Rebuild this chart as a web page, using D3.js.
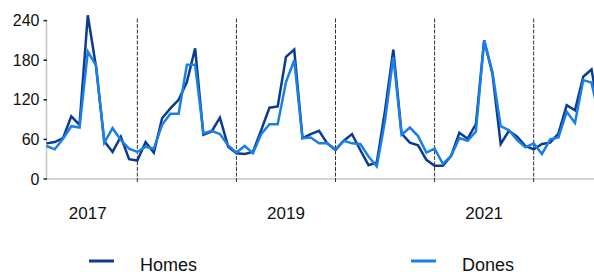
<!DOCTYPE html>
<html>
<head>
<meta charset="utf-8">
<script src="https://cdn.jsdelivr.net/npm/d3@7"></script>
<style>
  html, body { margin: 0; padding: 0; background: #fff; }
  svg { display: block; font-family: "Liberation Sans", Arial, sans-serif; }
</style>
</head>
<body>
<div id="chart"></div>
<script>
// monthly values
const homes = [54, 56, 62, 95, 82, 248, 170, 57, 41, 64, 30, 28,
  56, 40, 92, 107, 120, 147, 198, 67, 72, 93, 49, 39,
  38, 41, 74, 108, 110, 185, 196, 62, 68, 73, 54, 44,
  58, 68, 44, 21, 25, 104, 196, 69, 55, 51, 29, 20,
  20, 35, 70, 61, 83, 210, 160, 53, 73, 64, 50, 45,
  53, 55, 69, 112, 104, 155, 166, 95];
const dones = [50, 45, 61, 80, 78, 193, 172, 55, 77, 59, 46, 41,
  49, 46, 82, 99, 99, 173, 173, 69, 73, 68, 51, 40,
  50, 39, 68, 83, 83, 147, 180, 62, 63, 54, 54, 45,
  58, 54, 53, 34, 19, 89, 185, 67, 78, 65, 40, 46,
  23, 35, 62, 58, 72, 210, 162, 80, 74, 59, 48, 54,
  38, 60, 63, 102, 85, 150, 146, 90];
const yTicks = [0, 60, 120, 180, 240];
const yearLabels = ['2017', '2019', '2021'];
const yearIdx = [5, 29, 53];
const dividers = [11, 23, 35, 47, 59];
const seriesNames = ['Homes', 'Dones'];
const colors = ['#0b3c8c', '#1a7fe8'];

const width = 594, height = 272;
const svg = d3.select('#chart').append('svg')
  .attr('width', width)
  .attr('height', height);

const x = d3.scaleLinear().domain([0, 66]).range([46.5, 591.5]);
const y = d3.scaleLinear().domain([0, 240]).range([179, 20.6]);

// axis lines
svg.append('line')
  .attr('x1', x(0)).attr('x2', width)
  .attr('y1', y(0)).attr('y2', y(0))
  .attr('stroke', '#c4c4c4').attr('stroke-width', 1.5);
svg.append('line')
  .attr('x1', x(0)).attr('x2', x(0))
  .attr('y1', y(240)).attr('y2', y(0))
  .attr('stroke', '#c4c4c4').attr('stroke-width', 1.5);

// y ticks + labels
const yAxis = svg.append('g');
yAxis.selectAll('line')
  .data(yTicks).enter().append('line')
  .attr('x1', x(0) - 3).attr('x2', x(0) + 0.5)
  .attr('y1', d => y(d)).attr('y2', d => y(d))
  .attr('stroke', '#222').attr('stroke-width', 1.5);
yAxis.selectAll('text')
  .data(yTicks).enter().append('text')
  .attr('x', 39.5)
  .attr('y', d => y(d))
  .attr('dy', '0.35em')
  .attr('text-anchor', 'end')
  .attr('font-size', 16)
  .attr('fill', '#111')
  .text(d => d);

// dashed year dividers
svg.selectAll('.divider')
  .data(dividers).enter().append('line')
  .attr('class', 'divider')
  .attr('x1', d => x(d)).attr('x2', d => x(d))
  .attr('y1', 18.5).attr('y2', 182)
  .attr('stroke', '#333').attr('stroke-width', 1)
  .attr('stroke-dasharray', '4,1.5');

// year labels
svg.selectAll('.year')
  .data(yearLabels).enter().append('text')
  .attr('class', 'year')
  .attr('x', (d, i) => x(yearIdx[i]))
  .attr('y', 219)
  .attr('text-anchor', 'middle')
  .attr('font-size', 17)
  .attr('fill', '#111')
  .text(d => d);

// lines
const line = d3.line()
  .x((d, i) => x(i))
  .y(d => y(d));

[homes, dones].forEach((s, k) => {
  svg.append('path')
    .datum(s)
    .attr('d', line)
    .attr('fill', 'none')
    .attr('stroke', colors[k])
    .attr('stroke-width', 2.5)
    .attr('stroke-linejoin', 'miter');
});

// legend
const legendX = [89, 411];
const legend = svg.selectAll('.legend')
  .data(seriesNames).enter().append('g')
  .attr('class', 'legend')
  .attr('transform', (d, i) => 'translate(' + legendX[i] + ',0)');
legend.append('line')
  .attr('x1', 0).attr('x2', 25)
  .attr('y1', 261).attr('y2', 261)
  .attr('stroke', (d, i) => colors[i])
  .attr('stroke-width', 3);
legend.append('text')
  .attr('x', 51)
  .attr('y', 271)
  .attr('font-size', 18)
  .attr('fill', '#111')
  .text(d => d);
</script>
</body>
</html>
